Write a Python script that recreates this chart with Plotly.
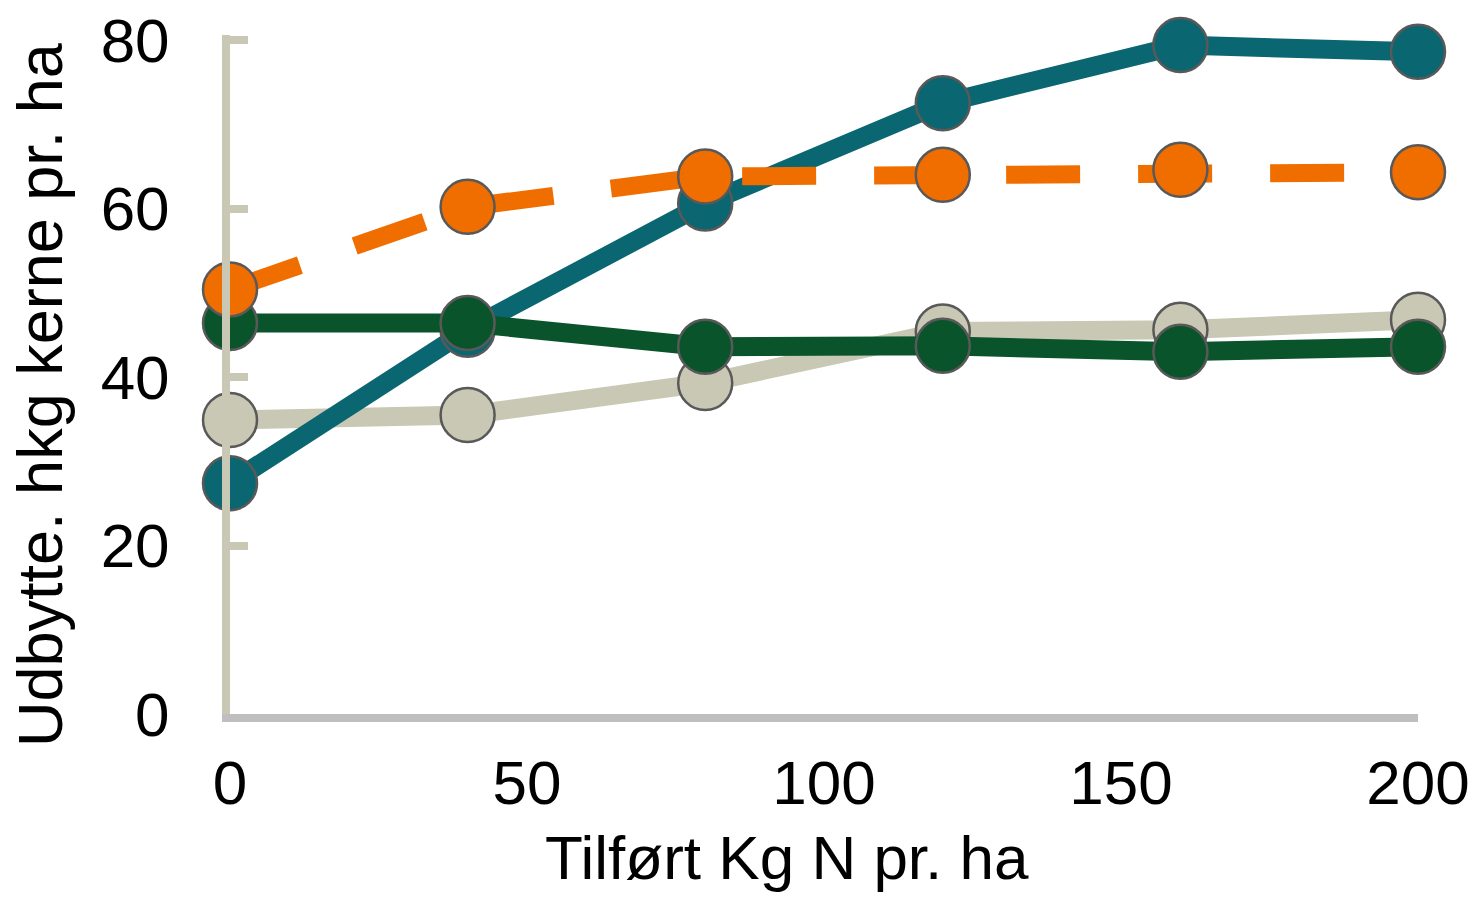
import plotly.graph_objects as go

x_n = [0, 40, 80, 120, 160, 200]
teal_vals = [27.4, 45.6, 60.6, 72.5, 79.4, 78.6]
orange_vals = [50.4, 60.2, 63.8, 64.0, 64.6, 64.3]
green_vals = [46.4, 46.4, 43.6, 43.7, 43.0, 43.6]
beige_vals = [34.9, 35.5, 39.3, 45.4, 45.6, 46.8]
y_ticks = [0, 20, 40, 60, 80]
x_ticks = [0, 50, 100, 150, 200]

FONT = "Liberation Sans, Arial, sans-serif"
MK_LINE = dict(color="#595959", width=2.5)

# page pixel targets (the page body adds an 8px offset)
OFF = 8
Y_TOP = 80.6
PX_PER_UNIT = (714 - 40) / 80
PL, PR, PB = 230, 1418, 714
PT = PB - Y_TOP * PX_PER_UNIT
W, H = 1478 - OFF, 898 - OFF

fig = go.Figure()
series = [
    (beige_vals, "#c8c8b4", "solid", 19),
    (teal_vals, "#0a6670", "solid", 19),
    (green_vals, "#0a542b", "solid", 19),
    (orange_vals, "#f06e00", "74px,58px", 18),
]
for vals, col, dash, w in series:
    fig.add_trace(go.Scatter(
        x=x_n, y=vals, mode="lines+markers",
        line=dict(color=col, width=w, dash=dash),
        marker=dict(size=54, color=col, line=MK_LINE),
        cliponaxis=False, showlegend=False,
    ))

pw, ph = PR - PL, PB - PT
fig.update_layout(
    width=W, height=H,
    margin=dict(l=PL - OFF, r=W - (PR - OFF), t=PT - OFF, b=H - (PB - OFF), autoexpand=False),
    paper_bgcolor="white", plot_bgcolor="white",
    font=dict(family=FONT, size=62, color="black"),
    xaxis=dict(range=[0, 200], tickvals=x_ticks, showgrid=False, zeroline=False,
               showline=True, linecolor="#bfbfbf", linewidth=8, ticks="",
               ticklabelstandoff=8, tickfont=dict(size=62), automargin=False,
               ticklabeloverflow="allow"),
    yaxis=dict(range=[0, Y_TOP], tickvals=y_ticks, showgrid=False, zeroline=False,
               showline=True, linecolor="#c8c8b4", linewidth=8,
               ticks="inside", ticklen=18, tickwidth=8, tickcolor="#c8c8b4",
               ticklabelstandoff=40, tickfont=dict(size=62), automargin=False,
               ticklabeloverflow="allow"),
    annotations=[
        dict(text="Tilført Kg N pr. ha", xref="paper", yref="paper",
             x=(787 - PL) / pw, y=(PB - 858) / ph, xanchor="center", yanchor="middle",
             showarrow=False, font=dict(size=62)),
        dict(text="Udbytte. hkg kerne pr. ha", xref="paper", yref="paper",
             x=(40 - PL) / pw, y=(PB - 395) / ph, xanchor="center", yanchor="middle",
             textangle=-90, showarrow=False, font=dict(size=63)),
    ],
)

fig.write_html("out.html")
